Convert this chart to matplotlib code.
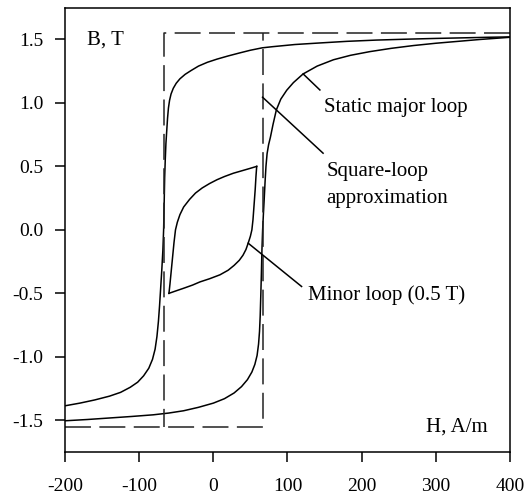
import matplotlib
matplotlib.use('Agg')
import matplotlib.pyplot as plt

plt.rcParams['font.family'] = ['Liberation Serif', 'DejaVu Serif']
plt.rcParams['axes.unicode_minus'] = False

# static major loop, descending branch (H in A/m, B in T)
desc_h = [400, 370, 340, 300, 260, 220, 180, 140, 110, 80, 66, 50, 35, 20, 5, -8, -20, -30,
          -38, -45, -50, -54, -57, -59, -60.5, -61.7, -62.8, -63.9, -64.8, -65.6, -66.3, -67,
          -68, -69.5, -71, -72.5, -74, -76, -78.5, -82, -87, -94, -102, -112, -125, -140,
          -160, -180, -200]
desc_b = [1.52, 1.517, 1.513, 1.508, 1.502, 1.495, 1.485, 1.471, 1.46, 1.443, 1.434, 1.415,
          1.393, 1.37, 1.345, 1.32, 1.29, 1.255, 1.225, 1.19, 1.155, 1.115, 1.07, 1.02, 0.96,
          0.88, 0.78, 0.68, 0.55, 0.41, 0.2, 0.0, -0.16, -0.32, -0.46, -0.6, -0.72, -0.84,
          -0.94, -1.02, -1.09, -1.15, -1.2, -1.24, -1.28, -1.31, -1.34, -1.365, -1.386]

# static major loop, ascending branch
asc_h = [-200, -170, -140, -110, -81, -60, -40, -20, 0, 15, 28, 38, 46, 52, 56, 59, 61, 62.3,
         63.2, 64, 64.8, 65.6, 66.5, 67.5, 68.6, 69.8, 71, 72.5, 74.5, 77, 80.5, 85, 91, 99,
         108, 121, 140, 162, 185, 211, 240, 270, 300, 330, 360, 400]
asc_b = [-1.504, -1.494, -1.482, -1.47, -1.457, -1.443, -1.425, -1.398, -1.365, -1.33, -1.285,
         -1.235, -1.18, -1.12, -1.06, -0.99, -0.9, -0.8, -0.68, -0.52, -0.35, -0.15, 0.0, 0.12,
         0.24, 0.38, 0.5, 0.6, 0.67, 0.73, 0.83, 0.945, 1.03, 1.10, 1.16, 1.228, 1.29, 1.34,
         1.375, 1.404, 1.43, 1.452, 1.47, 1.485, 1.50, 1.517]

# minor loop (0.5 T)
minor_dn_h = [58.5, 50, 40, 27, 15, 5, -5, -15, -24, -32, -40, -45, -48.5, -51, -53, -55,
              -57, -58.5, -59.8]
minor_dn_b = [0.5, 0.485, 0.468, 0.446, 0.42, 0.395, 0.365, 0.33, 0.29, 0.24, 0.18, 0.12,
              0.06, 0.0, -0.1, -0.22, -0.34, -0.43, -0.5]
minor_up_h = [-59.8, -50, -40, -28, -18, -5, 9, 20, 28, 35, 40, 44, 47, 50, 52, 53.5, 55,
              56.5, 57.5, 58.5]
minor_up_b = [-0.5, -0.48, -0.46, -0.435, -0.41, -0.385, -0.354, -0.318, -0.28, -0.24, -0.2,
              -0.155, -0.105, -0.05, 0.0, 0.08, 0.2, 0.32, 0.42, 0.5]

# square-loop approximation
hc = 67
bs = 1.55
sq1_h = [-200, hc, hc]
sq1_b = [-bs, -bs, bs]
sq2_h = [400, -hc, -hc]
sq2_b = [bs, bs, -bs]

fig = plt.figure(figsize=(5.27, 4.94), dpi=100)
ax = fig.add_axes([0.1233, 0.085, 0.8444, 0.8994])

lw = 1.1
ax.plot(desc_h, desc_b, color='k', lw=lw)
ax.plot(asc_h, asc_b, color='k', lw=lw)
ax.plot(minor_dn_h, minor_dn_b, color='k', lw=lw)
ax.plot(minor_up_h, minor_up_b, color='k', lw=lw)
for h, b in [(sq1_h, sq1_b), (sq2_h, sq2_b)]:
    ax.plot(h, b, color='#222222', lw=lw, ls=(0, (17, 5.5)))

ax.set_xlim(-200, 400)
ax.set_ylim(-1.75, 1.75)
ax.set_xticks([-200, -100, 0, 100, 200, 300, 400])
ax.set_yticks([-1.5, -1.0, -0.5, 0.0, 0.5, 1.0, 1.5])
ax.set_yticklabels(['%.1f' % v for v in ax.get_yticks()])
ax.tick_params(direction='out', length=7.5, width=1.1, labelsize=14, pad=8)
ax.tick_params(axis='x', pad=11)
for s in ax.spines.values():
    s.set_linewidth(1.1)

fs = 15
ax.text(-170, 1.457, 'B, T', fontsize=fs, va='baseline')
ax.text(370, -1.59, 'H, A/m', fontsize=fs, va='baseline', ha='right')

ax.text(149, 0.929, 'Static major loop', fontsize=fs, va='baseline')
ax.plot([121.2, 143.7], [1.228, 1.102], color='k', lw=lw)

ax.text(152.7, 0.425, 'Square-loop', fontsize=fs, va='baseline')
ax.text(152.7, 0.21, 'approximation', fontsize=fs, va='baseline')
ax.plot([66.4, 148], [1.045, 0.604], color='k', lw=lw)

ax.text(127, -0.551, 'Minor loop (0.5 T)', fontsize=fs, va='baseline')
ax.plot([47, 119], [-0.105, -0.446], color='k', lw=lw)

plt.savefig('out.png', dpi=100)
